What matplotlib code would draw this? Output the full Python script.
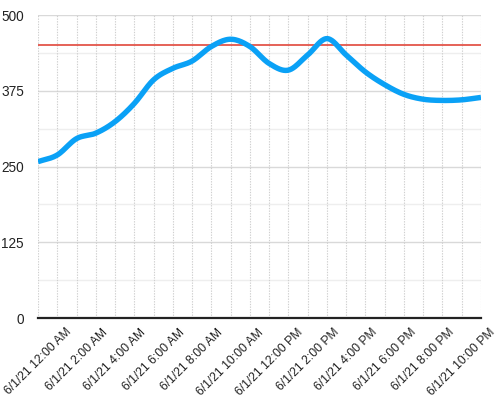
import numpy as np
import matplotlib
matplotlib.use("Agg")
import matplotlib.pyplot as plt

hours = list(range(24))
values = [258, 269, 296, 305, 324, 354, 393, 412, 424, 448, 460, 448,
          420, 409, 434, 461, 434, 406, 385, 369, 361, 359, 360, 364]
threshold = 450
y_ticks = [0, 125, 250, 375, 500]
x_label_hours = list(range(0, 24, 2))
x_labels = ["6/1/21 12:00 AM", "6/1/21 2:00 AM", "6/1/21 4:00 AM", "6/1/21 6:00 AM",
            "6/1/21 8:00 AM", "6/1/21 10:00 AM", "6/1/21 12:00 PM", "6/1/21 2:00 PM",
            "6/1/21 4:00 PM", "6/1/21 6:00 PM", "6/1/21 8:00 PM", "6/1/21 10:00 PM"]


def catmull_rom(x, y, n=20):
    x = np.asarray(x, float)
    y = np.asarray(y, float)
    m = np.zeros_like(y)
    m[1:-1] = (y[2:] - y[:-2]) / (x[2:] - x[:-2])
    m[0] = (y[1] - y[0]) / (x[1] - x[0])
    m[-1] = (y[-1] - y[-2]) / (x[-1] - x[-2])
    xs, ys = [], []
    for i in range(len(x) - 1):
        h = x[i + 1] - x[i]
        t = np.linspace(0, 1, n, endpoint=False)
        h00 = 2 * t**3 - 3 * t**2 + 1
        h10 = t**3 - 2 * t**2 + t
        h01 = -2 * t**3 + 3 * t**2
        h11 = t**3 - t**2
        xs.append(x[i] + t * h)
        ys.append(h00 * y[i] + h10 * h * m[i] + h01 * y[i + 1] + h11 * h * m[i + 1])
    xs.append([x[-1]])
    ys.append([y[-1]])
    return np.concatenate(xs), np.concatenate(ys)


plt.rcParams['font.family'] = ['Liberation Sans', 'DejaVu Sans']
fig = plt.figure(figsize=(5, 4), dpi=100)
ax = fig.add_axes([0.076, 0.205, 0.886, 0.7575])

ax.set_xlim(0, 23)
ax.set_ylim(0, 500)

# grid
for yv in np.arange(62.5, 500.1, 62.5):
    major = abs(yv % 125) < 1e-6
    ax.axhline(yv, color='#d9d9d9' if major else '#eeeeee', lw=1.0, zorder=0)
for h in hours:
    ax.axvline(h, color='#cfcfcf', lw=0.8, ls=(0, (1.2, 1.2)), zorder=0)

xs, ys = catmull_rom(hours, values)
ax.plot(xs, ys, color='#0aa1f6', lw=3.9, solid_capstyle='butt', zorder=3)
ax.axhline(threshold, color='#e0473b', lw=1.2, zorder=2)

for s in ['top', 'right', 'left']:
    ax.spines[s].set_visible(False)
ax.spines['bottom'].set_color('#222222')
ax.spines['bottom'].set_linewidth(1.6)
ax.spines['bottom'].set_zorder(4)

ax.set_yticks(y_ticks)
ax.set_yticklabels([str(v) for v in y_ticks], fontsize=9.8, color='#222222')
ax.set_xticks(x_label_hours)
ax.set_xticklabels(x_labels, rotation=45, ha='center', fontsize=8.7, color='#222222')
ax.tick_params(axis='both', length=0)
ax.tick_params(axis='y', pad=10)
ax.tick_params(axis='x', pad=6)

fig.savefig('out.png', dpi=100)
